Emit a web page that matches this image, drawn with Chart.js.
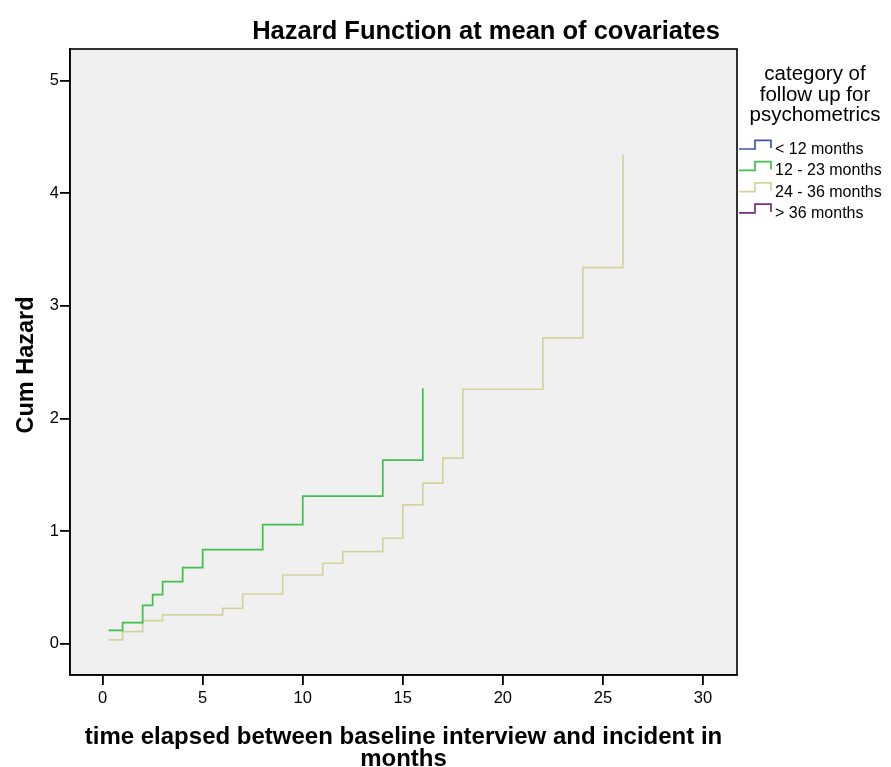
<!DOCTYPE html>
<html>
<head>
<meta charset="utf-8">
<script src="https://cdn.jsdelivr.net/npm/chart.js@4"></script>
<style>
  html, body { margin: 0; padding: 0; background: #ffffff; }
  #wrap { width: 891px; height: 767px; }
</style>
</head>
<body>
<div id="wrap"><canvas id="c" width="891" height="767"></canvas></div>
<script>
// ---- data ----
const chartTitle = 'Hazard Function at mean of covariates';
const xTitleLines = ['time elapsed between baseline interview and incident in', 'months'];
const yTitle = 'Cum Hazard';
const legendTitleLines = ['category of', 'follow up for', 'psychometrics'];
const seriesNames = ['< 12 months', '12 - 23 months', '24 - 36 months', '> 36 months'];
const seriesColors = ['#3d56b0', '#3ec04a', '#d6d29e', '#7d2b86'];

const xTicks = [0, 5, 10, 15, 20, 25, 30];
const yTicks = [0, 1, 2, 3, 4, 5];

const under12Time = [];
const under12Haz = [];
const from12to23Time = [0.3, 1, 2, 2.5, 3, 4, 5, 8, 10, 14, 16];
const from12to23Haz = [0.119, 0.187, 0.341, 0.435, 0.551, 0.675, 0.835, 1.057, 1.31, 1.629, 2.268];
const from24to36Time = [0.3, 1, 2, 3, 6, 7, 9, 11, 12, 14, 15, 16, 17, 18, 22, 24, 26];
const from24to36Haz = [0.033, 0.107, 0.204, 0.255, 0.314, 0.441, 0.61, 0.714, 0.817, 0.936, 1.232, 1.425, 1.647, 2.259, 2.715, 3.339, 4.34];
const over36Time = [];
const over36Haz = [];

const seriesTimes = [under12Time, from12to23Time, from24to36Time, over36Time];
const seriesHaz = [under12Haz, from12to23Haz, from24to36Haz, over36Haz];

const FONT = '"Liberation Sans", Arial, Helvetica, sans-serif';

const datasets = seriesNames.map((name, i) => ({
  label: name,
  data: seriesTimes[i].map((t, j) => ({ x: t, y: seriesHaz[i][j] })),
  borderColor: seriesColors[i],
  backgroundColor: seriesColors[i],
  borderWidth: 1.7,
  pointRadius: 0,
  pointHoverRadius: 0,
  fill: false,
  stepped: true,
  tension: 0
}));

const decorPlugin = {
  id: 'decor',
  beforeDraw(chart) {
    const ctx = chart.ctx, a = chart.chartArea;
    ctx.save();
    ctx.fillStyle = '#ffffff';
    ctx.fillRect(0, 0, chart.width, chart.height);
    ctx.fillStyle = '#f0f0f0';
    ctx.fillRect(a.left, a.top, a.right - a.left, a.bottom - a.top);
    ctx.restore();
  },
  afterDraw(chart) {
    const ctx = chart.ctx, a = chart.chartArea;
    ctx.save();
    // frame
    ctx.strokeStyle = '#000';
    ctx.lineWidth = 1.6;
    ctx.strokeRect(a.left, a.top, a.right - a.left, a.bottom - a.top);

    ctx.fillStyle = '#000';
    // chart title
    ctx.font = 'bold 25.5px ' + FONT;
    ctx.textAlign = 'center';
    ctx.textBaseline = 'alphabetic';
    ctx.fillText(chartTitle, 486, 39);

    // x title
    ctx.font = 'bold 24px ' + FONT;
    ctx.fillText(xTitleLines[0], (a.left + a.right) / 2, 744);
    ctx.fillText(xTitleLines[1], (a.left + a.right) / 2, 766);

    // y title
    ctx.save();
    ctx.translate(33, (a.top + a.bottom) / 2 + 3);
    ctx.rotate(-Math.PI / 2);
    ctx.font = 'bold 23.5px ' + FONT;
    ctx.textAlign = 'center';
    ctx.fillText(yTitle, 0, 0);
    ctx.restore();

    // legend title
    ctx.font = '20.5px ' + FONT;
    ctx.textAlign = 'center';
    legendTitleLines.forEach((line, i) => ctx.fillText(line, 815, 80 + i * 20.5));

    // legend items
    ctx.font = '16px ' + FONT;
    ctx.textAlign = 'left';
    seriesNames.forEach((name, i) => {
      const b = 149 + i * 21.3;
      ctx.strokeStyle = seriesColors[i];
      ctx.lineWidth = 1.7;
      ctx.beginPath();
      ctx.moveTo(739, b);
      ctx.lineTo(755, b);
      ctx.lineTo(755, b - 8.7);
      ctx.lineTo(771, b - 8.7);
      ctx.lineTo(771, b - 1);
      ctx.stroke();
      ctx.fillStyle = '#000';
      ctx.fillText(name, 775, b + 5);
    });
    ctx.restore();
  }
};

new Chart(document.getElementById('c'), {
  type: 'line',
  data: { datasets },
  plugins: [decorPlugin],
  options: {
    responsive: false,
    animation: false,
    devicePixelRatio: 1,
    layout: { padding: { top: 49, right: 154, left: 0, bottom: 0 } },
    plugins: {
      legend: { display: false },
      title: { display: false },
      tooltip: { enabled: false }
    },
    scales: {
      x: {
        type: 'linear',
        min: -1.63,
        max: 31.7,
        afterBuildTicks: s => { s.ticks = xTicks.map(v => ({ value: v })); },
        afterFit: s => { s.height = 92; },
        ticks: {
          color: '#000',
          font: { family: FONT, size: 16.5 },
          padding: 4,
          maxRotation: 0,
          autoSkip: false
        },
        grid: {
          drawOnChartArea: false,
          drawTicks: true,
          tickLength: 10,
          color: '#000',
          lineWidth: 1.8
        },
        border: { display: true, color: '#000', width: 1.6 }
      },
      y: {
        type: 'linear',
        min: -0.278,
        max: 5.28,
        afterBuildTicks: s => { s.ticks = yTicks.map(v => ({ value: v })); },
        afterFit: s => { s.width = 70; },
        ticks: {
          color: '#000',
          font: { family: FONT, size: 16.5 },
          padding: 1,
          autoSkip: false
        },
        grid: {
          drawOnChartArea: false,
          drawTicks: true,
          tickLength: 10,
          color: '#000',
          lineWidth: 1.8
        },
        border: { display: true, color: '#000', width: 1.6 }
      }
    }
  }
});
</script>
</body>
</html>
